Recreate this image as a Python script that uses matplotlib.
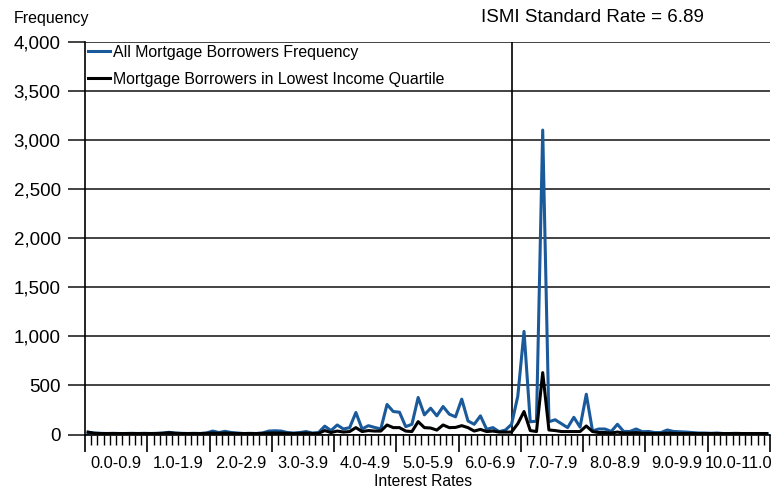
import matplotlib.pyplot as plt
import numpy as np

plt.rcParams['font.family'] = ['Liberation Sans', 'DejaVu Sans']

# Interest rate buckets 0.0 .. 10.9 in steps of 0.1
rates = [round(i * 0.1, 1) for i in range(110)]
group_labels = ['0.0-0.9', '1.0-1.9', '2.0-2.9', '3.0-3.9', '4.0-4.9', '5.0-5.9',
                '6.0-6.9', '7.0-7.9', '8.0-8.9', '9.0-9.9', '10.0-11.0']

all_borrowers = [
    20, 15, 12, 10, 12, 10, 10, 12, 10, 12,
    10, 12, 15, 22, 15, 12, 10, 12, 10, 15,
    35, 20, 32, 20, 15, 10, 12, 10, 15, 35,
    38, 35, 20, 15, 20, 30, 15, 20, 85, 40,
    97, 56, 70, 224, 56, 90, 72, 56, 306, 234,
    227, 80, 104, 377, 200, 268, 190, 285, 207, 180,
    360, 138, 104, 190, 53, 70, 29, 45, 104, 390,
    1050, 130, 135, 3100, 130, 150, 110, 70, 175, 75,
    410, 36, 56, 56, 31, 104, 31, 31, 56, 28,
    31, 20, 20, 46, 31, 28, 25, 20, 15, 15,
    12, 15, 10, 10, 12, 10, 10, 8, 8, 8,
]
lowest_quartile = [
    25, 12, 10, 10, 10, 10, 10, 10, 10, 10,
    10, 10, 12, 18, 12, 10, 10, 10, 10, 12,
    15, 12, 15, 12, 10, 10, 10, 10, 12, 15,
    15, 15, 12, 10, 12, 15, 10, 12, 40, 20,
    35, 25, 30, 70, 30, 40, 35, 35, 97, 70,
    70, 35, 30, 131, 70, 66, 45, 97, 70, 72,
    90, 70, 35, 52, 30, 35, 25, 25, 25, 110,
    234, 40, 30, 630, 46, 40, 30, 30, 30, 30,
    87, 30, 20, 20, 15, 25, 15, 15, 20, 12,
    12, 10, 10, 15, 12, 10, 10, 10, 10, 10,
    10, 10, 10, 10, 10, 10, 10, 10, 10, 10,
]
ismi_rate = 6.89

x = np.arange(len(rates))

fig = plt.figure(figsize=(7.77, 4.91), dpi=100)
ax = fig.add_axes([85 / 777, 1 - 434.5 / 491, 685 / 777, (434.5 - 41.7) / 491])

ax.plot(x, all_borrowers, color='#1a5a9a', lw=2.2, label='All Mortgage Borrowers Frequency', zorder=3)
ax.plot(x, lowest_quartile, color='black', lw=2.2, label='Mortgage Borrowers in Lowest Income Quartile', zorder=4)

# vertical line at the ISMI standard rate bucket
ismi_idx = rates.index(int(ismi_rate * 10) / 10)
ax.axvline(ismi_idx, color='black', lw=1.2, zorder=2)
fig.text(592 / 777, 1 - 18 / 491, 'ISMI Standard Rate = %.2f' % ismi_rate,
         fontsize=13.5, va='center', ha='center')

ax.set_xlim(-0.5, len(rates) - 0.5)
ax.set_ylim(0, 4000)
ax.set_yticks(np.arange(0, 4001, 500))
ax.set_yticklabels(['{:,}'.format(v) for v in range(0, 4001, 500)], fontsize=13.5)
ax.yaxis.grid(True, color='#222222', lw=1.2)
ax.set_axisbelow(True)
ax.tick_params(axis='y', length=12.5, width=1.2, color='#222222', pad=5)

ax.set_xticks(np.arange(-0.5, len(rates), 10))
ax.set_xticks(np.arange(-0.5, len(rates), 1), minor=True)
ax.set_xticklabels([])
ax.tick_params(axis='x', which='major', length=12.5, width=1.2, color='black')
ax.tick_params(axis='x', which='minor', length=7.5, width=1.0, color='black')
for k, lab in enumerate(group_labels):
    ax.text(k * 10 + 4.5, -0.073, lab, transform=ax.get_xaxis_transform(),
            ha='center', va='center', fontsize=11.8)

for s in ['top', 'right']:
    ax.spines[s].set_visible(False)
ax.spines['left'].set_linewidth(1.2)
ax.spines['bottom'].set_linewidth(1.2)

fig.text(14 / 777, 1 - 18 / 491, 'Frequency', fontsize=11.5, va='center', ha='left')
fig.text(423 / 777, 1 - 481 / 491, 'Interest Rates', fontsize=11.3, va='center', ha='center')

ax.legend(loc='upper left', bbox_to_anchor=(0.0, 1.0), frameon=False, fontsize=11.4,
          handlelength=1.4, handletextpad=0.15, labelspacing=0.75, borderaxespad=0.05,
          borderpad=0.15)

fig.savefig('out.png', dpi=100)
